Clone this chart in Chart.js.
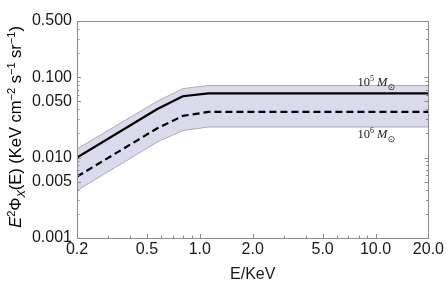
<!DOCTYPE html>
<html>
<head>
<meta charset="utf-8">
<script src="https://cdn.jsdelivr.net/npm/chart.js@4.4.1/dist/chart.umd.min.js"></script>
<style>
  html, body { margin: 0; padding: 0; background: #fff; }
  #wrap { width: 446px; height: 284px; }
</style>
</head>
<body>
<div id="wrap"><canvas id="myChart" width="446" height="284"></canvas></div>
<script>
// energy grid (KeV)
var energies = [0.2, 0.57, 0.8, 1.12, 20];
// 10^5 Msun (solid) and 10^6 Msun (dashed)
var flux1e5 = [0.0100, 0.040, 0.058, 0.063, 0.063];
var flux1e6 = [0.0058, 0.023, 0.033, 0.037, 0.037];
// shaded band
var bandHigh = [0.0128, 0.050, 0.072, 0.079, 0.079];
var bandLow = [0.0039, 0.0155, 0.0217, 0.024, 0.024];

var xTicks = [0.2, 0.5, 1.0, 2.0, 5.0, 10.0, 20.0];
var yTicks = [0.001, 0.005, 0.010, 0.050, 0.100, 0.500];

function pts(ys){
    return energies.map(function(e, i){ return {x: e, y: ys[i]}; });
}

// minor tick values for the frame
function minorVals(min, max){
    var out = [];
    for (var d = -4; d <= 2; d++){
        for (var k = 1; k <= 9; k++){
            var v = k * Math.pow(10, d);
            if (v >= min*0.9999 && v <= max*1.0001) out.push(v);
        }
    }
    return out;
}

var framePlugin = {
    id: "frame",
    afterDatasetsDraw: function(chart){
        var ctx = chart.ctx, a = chart.chartArea;
        var xs = chart.scales.x, ys = chart.scales.y;
        ctx.save();
        ctx.strokeStyle = "#8c8c8c";
        ctx.lineWidth = 1;
        ctx.strokeRect(Math.round(a.left)+0.5, Math.round(a.top)+0.5,
                       Math.round(a.right-a.left), Math.round(a.bottom-a.top));
        ctx.beginPath();
        minorVals(0.2, 20).forEach(function(v){
            var px = Math.round(xs.getPixelForValue(v))+0.5;
            var len = xTicks.indexOf(v) >= 0 ? 4 : 2.5;
            ctx.moveTo(px, a.bottom); ctx.lineTo(px, a.bottom - len);
        });
        minorVals(0.001, 0.5).forEach(function(v){
            var py = Math.round(ys.getPixelForValue(v))+0.5;
            var major = yTicks.some(function(t){ return Math.abs(t-v) < 1e-9; });
            var len = major ? 4 : 2.5;
            ctx.moveTo(a.left, py); ctx.lineTo(a.left + len, py);
            ctx.moveTo(a.right, py); ctx.lineTo(a.right - len, py);
        });
        ctx.stroke();

        // curve labels
        ctx.fillStyle = "#222";
        function massLabel(exp, x, y){
            ctx.font = "12.5px 'Liberation Serif', serif";
            ctx.fillText("10", x, y);
            var w = ctx.measureText("10").width;
            ctx.font = "8px 'Liberation Serif', serif";
            ctx.fillText(exp, x + w, y - 5);
            var w2 = ctx.measureText(exp).width;
            ctx.font = "italic 12.5px 'Liberation Serif', serif";
            ctx.fillText("M", x + w + w2 + 3, y);
            var w3 = ctx.measureText("M").width;
            ctx.font = "9px 'DejaVu Sans', sans-serif";
            ctx.fillText("\u2299", x + w + w2 + 3 + w3, y + 4);
        }
        var lx = xs.getPixelForValue(7.9);
        massLabel("5", lx, ys.getPixelForValue(0.072) - 3);
        massLabel("6", lx, ys.getPixelForValue(0.024) + 11);

        // y axis title
        ctx.translate(21, 127);
        ctx.rotate(-Math.PI/2);
        ctx.fillStyle = "#000";
        ctx.textBaseline = "alphabetic";
        var parts = [
            ["E", "italic 16.5px 'Liberation Sans'", 0],
            ["2", "11px 'Liberation Sans'", -6],
            ["\u03A6", "16.5px 'Liberation Sans'", 0],
            ["X", "italic 11px 'Liberation Sans'", 4],
            ["(E) (KeV cm", "16.5px 'Liberation Sans'", 0],
            ["\u22122", "11px 'Liberation Sans'", -6],
            [" s", "16.5px 'Liberation Sans'", 0],
            ["\u22121", "11px 'Liberation Sans'", -6],
            [" sr", "16.5px 'Liberation Sans'", 0],
            ["\u22121", "11px 'Liberation Sans'", -6],
            [")", "16.5px 'Liberation Sans'", 0]
        ];
        var total = 0;
        parts.forEach(function(p){ ctx.font = p[1]; total += ctx.measureText(p[0]).width; });
        var cx = -total/2;
        parts.forEach(function(p){
            ctx.font = p[1];
            ctx.fillText(p[0], cx, p[2]);
            cx += ctx.measureText(p[0]).width;
        });
        ctx.restore();
    }
};

new Chart("myChart", {
    type: "line",
    data: {
        datasets: [
            {
                data: pts(bandHigh),
                borderColor: "#9a9aae",
                borderWidth: 0.8,
                backgroundColor: "rgba(218,218,236,1)",
                pointRadius: 0,
                fill: false,
                order: 3
            },
            {
                data: pts(bandLow),
                borderColor: "#9a9aae",
                borderWidth: 0.8,
                backgroundColor: "rgba(218,218,236,1)",
                pointRadius: 0,
                fill: "-1",
                order: 3
            },
            {
                data: pts(flux1e5),
                borderColor: "#000",
                borderWidth: 2.2,
                pointRadius: 0,
                fill: false,
                order: 1
            },
            {
                data: pts(flux1e6),
                borderColor: "#000",
                borderWidth: 2.2,
                borderDash: [7, 4],
                pointRadius: 0,
                fill: false,
                order: 2
            }
        ]
    },
    options: {
        responsive: false,
        animation: false,
        layout: { padding: { top: 21, right: 17, left: 0, bottom: 0 } },
        plugins: {
            legend: { display: false },
            tooltip: { enabled: false }
        },
        scales: {
            x: {
                type: "logarithmic",
                min: 0.2,
                max: 20,
                grid: { display: false, drawTicks: false },
                border: { display: false },
                afterBuildTicks: function(s){ s.ticks = xTicks.map(function(v){ return {value: v}; }); },
                afterFit: function(s){ s.height = 46; },
                ticks: {
                    autoSkip: false,
                    maxRotation: 0,
                    padding: 2,
                    color: "#1a1a1a",
                    font: { family: "'Liberation Sans', Arial", size: 16 },
                    callback: function(v){ return Number(v).toFixed(1); }
                },
                title: {
                    display: true,
                    text: "E/KeV",
                    color: "#1a1a1a",
                    padding: { top: 3, bottom: 0 },
                    font: { family: "'Liberation Sans', Arial", size: 16 }
                }
            },
            y: {
                type: "logarithmic",
                min: 0.001,
                max: 0.5,
                grid: { display: false, drawTicks: false },
                border: { display: false },
                afterBuildTicks: function(s){ s.ticks = yTicks.map(function(v){ return {value: v}; }); },
                afterFit: function(s){ s.width = 77; },
                ticks: {
                    autoSkip: false,
                    padding: 5,
                    color: "#1a1a1a",
                    font: { family: "'Liberation Sans', Arial", size: 16 },
                    callback: function(v){ return Number(v).toFixed(3); }
                }
            }
        }
    },
    plugins: [framePlugin]
});
</script>
</body>
</html>
